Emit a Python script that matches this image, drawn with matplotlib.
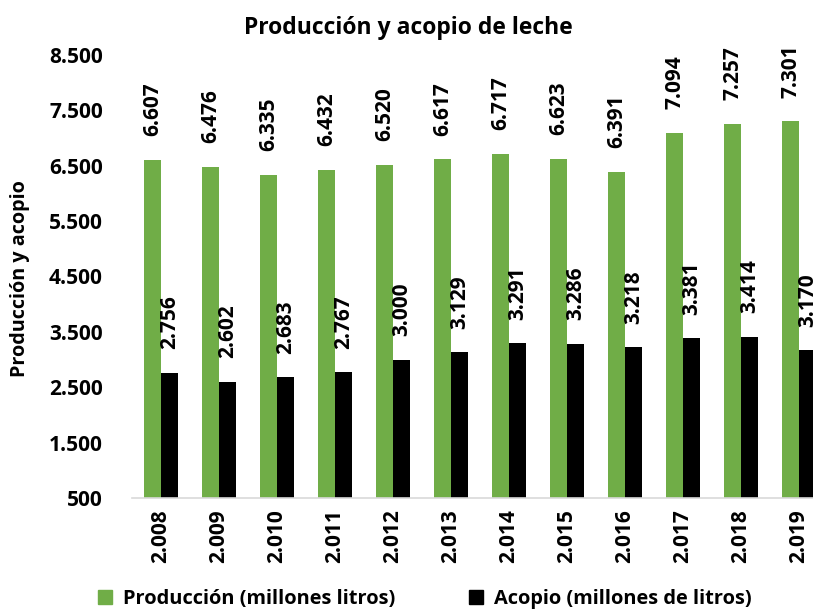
import matplotlib
matplotlib.use("Agg")
import matplotlib.pyplot as plt
import numpy as np
from matplotlib.patches import Patch

plt.rcParams['font.family'] = ['Open Sans', 'DejaVu Sans']
plt.rcParams['font.weight'] = 'bold'

years = ["2.008", "2.009", "2.010", "2.011", "2.012", "2.013", "2.014",
         "2.015", "2.016", "2.017", "2.018", "2.019"]
produccion = [6607, 6476, 6335, 6432, 6520, 6617, 6717, 6623, 6391, 7094, 7257, 7301]
acopio = [2756, 2602, 2683, 2767, 3000, 3129, 3291, 3286, 3218, 3381, 3414, 3170]
yticks = [500, 1500, 2500, 3500, 4500, 5500, 6500, 7500, 8500]
ytick_labels = ["500", "1.500", "2.500", "3.500", "4.500", "5.500", "6.500", "7.500", "8.500"]

green = "#70AD47"
black = "#000000"

fig = plt.figure(figsize=(8.13, 6.09), dpi=100)
W, H = 813, 609
left, right, bottom, top = 132, 828, 498, 55
ax = fig.add_axes([left / W, 1 - bottom / H, (right - left) / W, (bottom - top) / H])

x = np.arange(len(years))
bw = 0.288
ax.bar(x - bw / 2, [v - 500 for v in produccion], bw, bottom=500, color=green)
ax.bar(x + bw / 2, [v - 500 for v in acopio], bw, bottom=500, color=black)

def fmt(v):
    return f"{v:,}".replace(",", ".")

fs = 15
for xi, v in zip(x, produccion):
    ax.annotate(fmt(v), (xi - bw / 2, v), xytext=(0, 17), textcoords="offset points",
                rotation=90, ha="center", va="bottom", fontsize=fs, fontweight="bold",
                annotation_clip=False)
for xi, v in zip(x, acopio):
    ax.annotate(fmt(v), (xi + bw / 2, v), xytext=(0, 17), textcoords="offset points",
                rotation=90, ha="center", va="bottom", fontsize=fs, fontweight="bold",
                annotation_clip=False)

ax.set_xlim(-0.5, len(years) - 0.5)
ax.set_ylim(500, 8500)
ax.set_yticks(yticks)
ax.set_yticklabels(ytick_labels, fontsize=fs, fontweight="bold")
ax.set_xticks(x)
ax.set_xticklabels(years, rotation=90, fontsize=fs, fontweight="bold")
ax.tick_params(axis="y", length=0, pad=21)
ax.tick_params(axis="x", length=0, pad=8)
for s in ["top", "right", "left"]:
    ax.spines[s].set_visible(False)
ax.spines["bottom"].set_color("#D9D9D9")
ax.spines["bottom"].set_linewidth(1.2)

fig.text(408 / W, 1 - 28 / H, "Producción y acopio de leche", ha="center", va="center",
         fontsize=16.5, fontweight="bold")
fig.text(20 / W, 1 - 279 / H, "Producción y acopio", rotation=90, ha="center", va="center",
         fontsize=14.2, fontweight="bold")

handles = [Patch(color=green, label="Producción (millones litros)"),
           Patch(color=black, label="Acopio (millones de litros)")]
fig.legend(handles=handles, loc="center left", bbox_to_anchor=(98 / W, 1 - 599 / H), ncol=2,
           frameon=False, handlelength=0.7, handleheight=0.7, borderpad=0, borderaxespad=0,
           columnspacing=3.7, handletextpad=0.55, prop={"weight": "bold", "size": 14.4})

fig.savefig("out.png", dpi=100)
